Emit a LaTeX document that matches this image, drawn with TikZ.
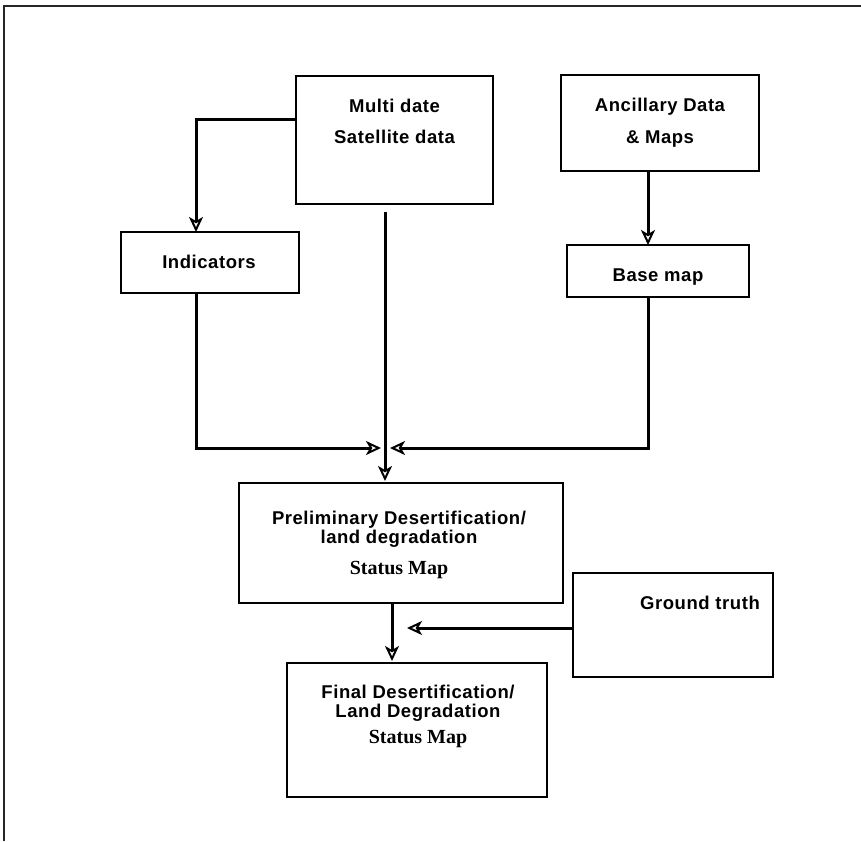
\documentclass[tikz,border=0pt]{standalone}
\usepackage{fontspec}
\setmainfont{Liberation Sans}
\newfontfamily\lblfont[LetterSpace=3]{Liberation Sans Bold}
\newfontfamily\serfont{Liberation Serif Bold}
\usetikzlibrary{arrows.meta}
\tikzset{
  box/.style={draw=black, line width=1.6pt, rectangle, inner sep=0pt, outer sep=0pt},
  lbl/.style={anchor=base, inner sep=0pt, font=\lblfont\fontsize{18.5}{20}\selectfont},
  ser/.style={anchor=base, inner sep=0pt, font=\serfont\fontsize{20}{22}\selectfont},
  conn/.style={draw=black, line width=3pt, -{Stealth[open, length=15pt, width=14pt, inset=4pt, line width=2pt]}},
  frameline/.style={draw=black!85, line width=2.2pt}
}
\begin{document}
\begin{tikzpicture}[x=1pt, y=-1pt]
\useasboundingbox (0,0) rectangle (861,841);
\draw[frameline] (4,841) -- (4,6) -- (861,6);

% boxes
\node[box, minimum width=197pt, minimum height=128pt] (multi) at (394.5,140) {};
\node[box, minimum width=198pt, minimum height=96pt] (anc) at (660,123) {};
\node[box, minimum width=178pt, minimum height=61pt] (ind) at (210,262.5) {};
\node[box, minimum width=182pt, minimum height=52pt] (base) at (658,271) {};
\node[box, minimum width=324pt, minimum height=120pt] (prelim) at (401,543) {};
\node[box, minimum width=200pt, minimum height=104pt] (gt) at (673,625) {};
\node[box, minimum width=260pt, minimum height=134pt] (final) at (417,730) {};

% texts
\node[lbl] (t1) at (394.5,112) {Multi date};
\node[lbl] (t2) at (394.5,143) {Satellite data};
\node[lbl] (t3) at (660,111) {Ancillary Data};
\node[lbl] (t4) at (660,143) {\& Maps};
\node[lbl] (t5) at (209,268) {Indicators};
\node[lbl] (t6) at (658,281) {Base map};
\node[lbl] (t7) at (399,524) {Preliminary Desertification/};
\node[lbl] (t8) at (399,543) {land degradation};
\node[ser] (t9) at (399,574) {Status Map};
\node[lbl] (t10) at (700,609) {Ground truth};
\node[lbl] (t11) at (418,698) {Final Desertification/};
\node[lbl] (t12) at (418,717) {Land Degradation};
\node[ser] (t13) at (418,743) {Status Map};

% junction points
\coordinate (jl) at (381,448);
\coordinate (jr) at (390,448);
\coordinate (gtend) at (407,628);

% connectors
\draw[conn] ([yshift=21pt]multi.west) -| ([xshift=-14pt]ind.north);
\draw[conn] ([xshift=-9.5pt,yshift=-8pt]multi.south) -- ([xshift=-16pt,yshift=2pt]prelim.north);
\draw[conn] ([xshift=-12pt]anc.south) -- ([xshift=-10pt]base.north);
\draw[conn] ([xshift=-14pt]ind.south) |- (jl);
\draw[conn] ([xshift=-10pt]base.south) |- (jr);
\draw[conn] ([xshift=-9pt]prelim.south) -- ([xshift=-25pt,yshift=2pt]final.north);
\draw[conn] ([yshift=-3pt]gt.west) -- (gtend);
\end{tikzpicture}
\end{document}
